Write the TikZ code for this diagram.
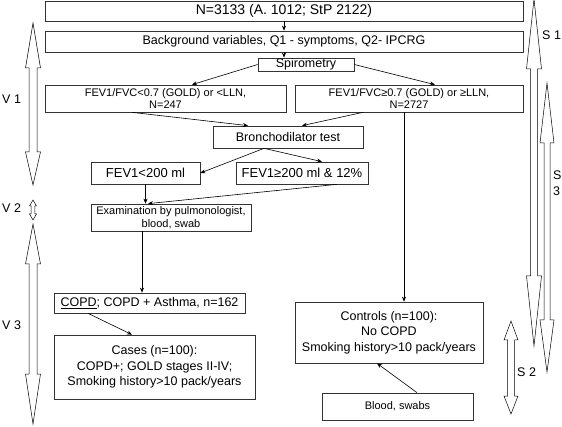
\documentclass[tikz,border=0pt]{standalone}
\usepackage{fontspec}
\setmainfont{Liberation Sans}
\usetikzlibrary{arrows.meta}

\tikzset{
  box/.style={draw=black!80, line width=0.7pt, inner sep=0pt, align=center, font=\fontsize{12.5}{15.5}\selectfont},
  conn/.style={-{Stealth[length=5pt,width=4pt]}, line width=0.6pt},
  hollow/.style={draw, fill=white, line width=0.5pt},
  lab/.style={inner sep=0pt, font=\fontsize{12.5}{16}\selectfont},
}
% x, top tip, bottom tip, top head, bottom head, half head, half shaft
\newcommand{\twinarrow}[7]{%
  \draw[hollow] (#1,#2) -- (#1+#6,#2+#4) -- (#1+#7,#2+#4) -- (#1+#7,#3-#5) -- (#1+#6,#3-#5)
    -- (#1,#3) -- (#1-#6,#3-#5) -- (#1-#7,#3-#5) -- (#1-#7,#2+#4) -- (#1-#6,#2+#4) -- cycle;}

\begin{document}
\begin{tikzpicture}[x=1pt, y=-1pt]
\useasboundingbox (0,0) rectangle (562,427);

% boxes
\node[box, minimum width=478pt, minimum height=20pt, font=\fontsize{14}{16}\selectfont] (total) at (284,11) {N=3133 (A. 1012; StP 2122)};
\node[box, minimum width=478pt, minimum height=21pt] (backgr) at (284,41.5) {Background variables, Q1 - symptoms, Q2- IPCRG};
\node[box, minimum width=96pt, minimum height=13pt] (spiro) at (306,64.5) {Spirometry};
\node[box, minimum width=241pt, minimum height=27pt, font=\fontsize{11}{12.5}\selectfont] (low) at (165.5,98.5) {FEV1/FVC<0.7 (GOLD) or <LLN,\\N=247};
\node[box, minimum width=228pt, minimum height=27pt, font=\fontsize{11}{12.5}\selectfont] (high) at (409,98.5) {FEV1/FVC≥0.7 (GOLD) or ≥LLN,\\N=2727};
\node[box, minimum width=150pt, minimum height=22pt] (bronch) at (288,137) {Bronchodilator test};
\node[box, minimum width=109pt, minimum height=22pt, font=\fontsize{13}{16}\selectfont] (small) at (145.5,173) {FEV1<200 ml};
\node[box, minimum width=132pt, minimum height=22pt, font=\fontsize{13}{16}\selectfont] (large) at (302,173) {FEV1≥200 ml \& 12\%};
\node[box, minimum width=160pt, minimum height=27pt, font=\fontsize{11}{12.5}\selectfont] (exam) at (171,217.5) {Examination by pulmonologist,\\blood, swab};
\node[box, minimum width=191pt, minimum height=20pt] (copd) at (149.5,303) {\underline{COPD}; COPD + Asthma, n=162};
\node[box, minimum width=201pt, minimum height=64pt] (cases) at (154.5,367) {Cases (n=100):\\COPD+; GOLD stages II-IV;\\Smoking history>10 pack/years};
\node[box, minimum width=188pt, minimum height=61pt] (ctrl) at (389,332.5) {Controls (n=100):\\No COPD\\Smoking history>10 pack/years};
\node[box, minimum width=151pt, minimum height=27pt, font=\fontsize{11}{13}\selectfont] (blood) at (397.5,406.5) {Blood, swabs};

% connectors
\draw[conn] (total.south) -- (backgr.north);
\draw[conn] (backgr.south) -- (backgr.south |- spiro.north);
\draw[conn] (spiro.west) -- ([xshift=26.5pt]low.north);
\draw[conn] (spiro.east) -- ([xshift=26pt]high.north);
\draw[conn] ([xshift=-33.5pt]low.south) -- ([xshift=-40pt]bronch.north);
\draw[conn] ([xshift=-46pt]high.south) -- ([xshift=14pt]bronch.north);
\draw[conn] ([xshift=-5pt]high.south) -- ([xshift=-5pt]high.south |- ctrl.north);
\draw[conn] ([xshift=-24pt]bronch.south) -- (small.east);
\draw[conn] ([xshift=-24pt]bronch.south) -- ([xshift=20pt]large.north);
\draw[conn] (small.south) -- (small.south |- exam.north);
\draw[conn] ([xshift=35pt]large.south) -- ([xshift=-23pt]exam.north);
\draw[conn] ([xshift=-29pt]exam.south) -- ([xshift=-29pt]exam.south |- copd.north);
\draw[conn] ([xshift=-61.5pt]copd.south) -- ([xshift=-22.5pt]cases.north);
\draw[conn] ([xshift=19.5pt]blood.north) -- ([xshift=-12pt]ctrl.south);

% visits and samples
\twinarrow{33}{23}{185}{45}{33}{7.5}{4}
\twinarrow{33}{200}{220}{6}{6}{3.5}{1.8}
\twinarrow{33}{224}{424}{40}{50}{7.5}{4}
\twinarrow{534}{-1}{346}{70}{70}{7.5}{3.5}
\twinarrow{547}{83}{372}{60}{52}{7}{3}
\twinarrow{511}{321}{414}{19}{18}{7}{3.5}

\node[lab, anchor=west] (v1) at (2,99) {V 1};
\node[lab, anchor=west] (v2) at (2,208) {V 2};
\node[lab, anchor=west] (v3) at (2,325) {V 3};
\node[lab, anchor=west] (s1) at (542,35) {S 1};
\node[lab, anchor=west, align=left] (s3) at (553,183) {S\\3};
\node[lab, anchor=west] (s2) at (517,372) {S 2};
\end{tikzpicture}
\end{document}
